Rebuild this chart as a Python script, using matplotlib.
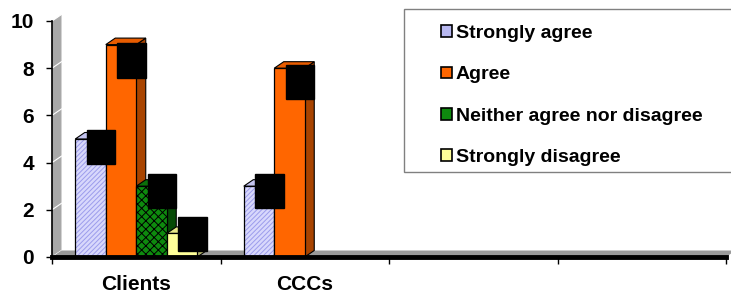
import matplotlib
matplotlib.use("Agg")
import matplotlib.pyplot as plt
from matplotlib.patches import Polygon, Patch, Rectangle
import numpy as np

plt.rcParams["font.family"] = ["Liberation Sans", "DejaVu Sans"]
plt.rcParams["font.weight"] = "bold"
plt.rcParams["hatch.linewidth"] = 0.7

# --- data -------------------------------------------------------------------
categories = ["Clients", "CCCs", "", ""]
series = ["Strongly agree", "Agree", "Neither agree nor disagree", "Strongly disagree"]
strongly_agree = [5, 3, None, None]
agree = [9, 8, None, None]
neither = [3, None, None, None]
strongly_disagree = [1, None, None, None]
values = [strongly_agree, agree, neither, strongly_disagree]

# --- styles -----------------------------------------------------------------
faces = ["#D8D8FC", "#FF6600", "#0E8A0E", "#FFFF99"]
hatches = ["///////", None, "xxxx", None]
hatch_cols = ["#9C9CEC", None, "#000000", None]
sides = ["#A8A8D8", "#A84400", "#064A06", "#B8B870"]
tops = ["#C4C4F0", "#E85C00", "#0A700A", "#E8E888"]

W, H, DPI = 7.31, 2.95, 100
fig = plt.figure(figsize=(W, H), dpi=DPI)
ax = fig.add_axes([52 / 731, 38 / 295, 674 / 731, 236 / 295])
ax.set_xlim(0, len(categories)); ax.set_ylim(0, 10)
ax.set_facecolor("none")

# depth of the fake 3D effect, pixels -> data units
px_x = len(categories) / 674.0
px_y = 10 / 236.0
dx, dy = 9.5 * px_x, 6.5 * px_y

# back wall + floor
ax.add_patch(Polygon([(0, 0), (0, 10), (dx, 10 + dy), (dx, dy)], closed=True,
                     facecolor="#A8A8A8", edgecolor="none", clip_on=False, zorder=0.5))
for t in range(0, 11, 2):
    ax.plot([0, dx], [t, t + dy], color="white", lw=0.8, clip_on=False, zorder=0.6)
n = len(categories)
ax.add_patch(Polygon([(0, 0), (n, 0), (n + dx, dy), (dx, dy)], closed=True,
                     facecolor="#9A9A9A", edgecolor="none", clip_on=False, zorder=0.7))

bw = 0.181
offsets = (np.arange(len(series)) - 1.5) * bw
z = 2
for ci in range(len(categories)):
    for si in range(len(series)):
        v = values[si][ci]
        if v is None:
            continue
        x0 = ci + 0.5 + offsets[si] - bw / 2
        # side and top faces
        ax.add_patch(Polygon([(x0 + bw, 0), (x0 + bw, v), (x0 + bw + dx, v + dy), (x0 + bw + dx, dy)],
                             closed=True, facecolor=sides[si], edgecolor="black", lw=0.8, zorder=z))
        ax.add_patch(Polygon([(x0, v), (x0 + bw, v), (x0 + bw + dx, v + dy), (x0 + dx, v + dy)],
                             closed=True, facecolor=tops[si], edgecolor="black", lw=0.8, zorder=z))
        # front face
        if hatches[si]:
            ax.bar(x0, v, bw, align="edge", color=faces[si], edgecolor=hatch_cols[si],
                   hatch=hatches[si], linewidth=0, zorder=z + 0.1)
        else:
            ax.bar(x0, v, bw, align="edge", color=faces[si], linewidth=0, zorder=z + 0.1)
        ax.bar(x0, v, bw, align="edge", fill=False, edgecolor="black", linewidth=0.9, zorder=z + 0.2)
        z += 1

# data labels (black text on black boxes, as in the original)
for ci in range(len(categories)):
    for si in range(len(series)):
        v = values[si][ci]
        if v is None:
            continue
        xc = ci + 0.5 + offsets[si] + 0.062
        yc = 0.92 * v + 0.05
        ax.text(xc, yc, str(v), ha="center", va="center", fontsize=12, color="black",
                zorder=50, bbox=dict(boxstyle="square,pad=0.58", facecolor="black", edgecolor="black"))

# axes
for s in ["top", "right"]:
    ax.spines[s].set_visible(False)
ax.spines["left"].set_linewidth(1.2)
ax.spines["bottom"].set_linewidth(3.5)
ax.spines["left"].set_zorder(60)
ax.spines["bottom"].set_zorder(60)
ax.set_yticks(range(0, 11, 2))
ax.tick_params(axis="y", length=4, width=1, pad=9, labelsize=15)
ax.set_xticks(range(0, n + 1))
ax.set_xticks(np.arange(n) + 0.5, minor=True)
ax.set_xticklabels([])
ax.set_xticklabels(categories, minor=True)
ax.tick_params(axis="x", which="major", length=5, width=1, direction="out")
ax.tick_params(axis="x", which="minor", length=0, pad=13, labelsize=15)

# legend
handles = [Patch(facecolor=faces[i] if i != 0 else "#B8B8F0", edgecolor="black", linewidth=1.2)
           for i in range(len(series))]
fig.add_artist(Rectangle((404 / 731, 1 - 172 / 295), 340 / 731, 163 / 295,
                         transform=fig.transFigure, facecolor="white", edgecolor="#808080",
                         lw=1, zorder=3))
fig.legend(handles, series, loc="upper left", bbox_to_anchor=(441 / 731, 1 - 25 / 295),
           frameon=False, fontsize=14, handlelength=0.55, handleheight=0.55,
           handletextpad=0.22, labelspacing=1.25, borderpad=0, borderaxespad=0)

fig.savefig("out.png", dpi=DPI)
